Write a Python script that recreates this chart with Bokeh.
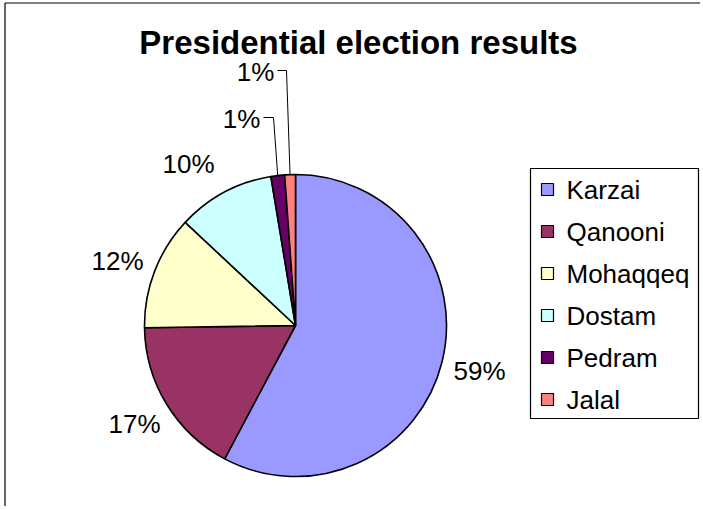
import math
from bokeh.plotting import figure
from bokeh.models import Range1d, ColumnDataSource
from bokeh.core.properties import value
from bokeh.embed import file_html
from bokeh.resources import INLINE

# ---- data ----
candidates = ["Karzai", "Qanooni", "Mohaqqeq", "Dostam", "Pedram", "Jalal"]
votes = [55.4, 16.3, 11.7, 10.0, 1.4, 1.1]
pct_labels = ["59%", "17%", "12%", "10%", "1%", "1%"]
colors = ["#9999FF", "#993366", "#FFFFCC", "#CCFFFF", "#660066", "#FF8080"]
title = "Presidential election results"

# ---- layout (page pixel coords) ----
W, H = 700, 506
def fx(X): return X
def fy(Y): return H - Y

CX, CY, R = 295, 325, 151
label_pos = [(479, 370), (134, 423), (117, 260), (188, 163), (241, 118), (255, 71)]
leader_elbow = {4: [(263, 117), (273, 117)], 5: [(277, 70), (286, 70)]}

FONT = "Liberation Sans"

p = figure(width=W, height=H, output_backend="svg", toolbar_location=None,
           x_range=Range1d(0, W), y_range=Range1d(0, H), min_border=0)
p.axis.visible = False
p.grid.visible = False
p.outline_line_color = None
p.background_fill_color = "white"
p.border_fill_color = "white"

# chart border (left & top visible)
p.segment(x0=[fx(4.5), fx(4.5)], y0=[0, fy(2.5)], x1=[fx(4.5), W], y1=[fy(2.5), fy(2.5)],
          line_color="black", line_width=1.2)

# pie
total = sum(votes)
cum = [0.0]
for v in votes:
    cum.append(cum[-1] + v / total)
starts = [math.pi / 2 - 2 * math.pi * cum[i + 1] for i in range(len(votes))]
ends = [math.pi / 2 - 2 * math.pi * cum[i] for i in range(len(votes))]
src = ColumnDataSource(dict(start=starts, end=ends, color=colors, name=candidates))
p.wedge(x=fx(CX), y=fy(CY), radius=R, start_angle="start", end_angle="end",
        fill_color="color", line_color="black", line_width=1.6, source=src)

# leader lines for small slices
for i, pts in leader_elbow.items():
    mid = (cum[i] + cum[i + 1]) / 2 * 2 * math.pi
    ex = fx(CX) + R * math.sin(mid)
    ey = fy(CY) + R * math.cos(mid)
    xs = [fx(x) for x, _ in pts] + [ex]
    ys = [fy(y) for _, y in pts] + [ey]
    p.line(xs, ys, line_color="black", line_width=1)

# percentage labels
lsrc = ColumnDataSource(dict(x=[fx(x) for x, _ in label_pos],
                             y=[fy(y) for _, y in label_pos], t=pct_labels))
p.text(x="x", y="y", text="t", source=lsrc, text_font=value(FONT),
       text_font_size="26px", text_align="center", text_baseline="middle",
       text_color="black")

# title
p.text(x=[fx(358)], y=[fy(42)], text=[title], text_font=value(FONT),
       text_font_size="33px", text_font_style="bold", text_align="center",
       text_baseline="middle", text_color="black")

# legend
LX0, LX1, LY0, LY1 = 530, 698, 168, 418
p.quad(left=[fx(LX0)], right=[fx(LX1)], top=[fy(LY0)], bottom=[fy(LY1)],
       fill_color="white", line_color="black", line_width=1.2)
row_y = [189 + 42 * i for i in range(len(candidates))]
p.rect(x=[fx(547)] * len(candidates), y=[fy(y) for y in row_y], width=12, height=12,
       fill_color=colors, line_color="black", line_width=1.2)
p.text(x=[fx(566)] * len(candidates), y=[fy(y) for y in row_y], text=candidates,
       text_font=value(FONT), text_font_size="26px", text_align="left",
       text_baseline="middle", text_color="black")

open("out.html", "w").write(file_html(p, INLINE))
